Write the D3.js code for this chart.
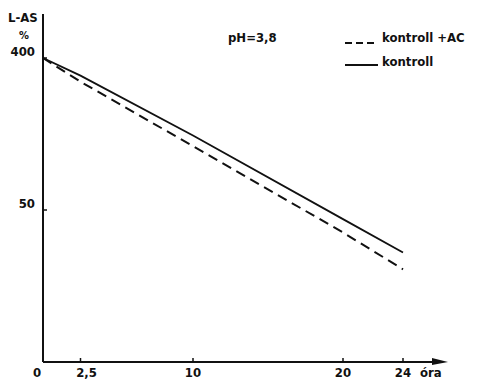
<!DOCTYPE html>
<html>
<head>
<meta charset="utf-8">
<script src="https://cdn.jsdelivr.net/npm/d3@7"></script>
<style>
  body { margin: 0; background: #fff; }
  text { font-family: 'DejaVu Sans Condensed', 'DejaVu Sans', sans-serif; font-weight: bold; fill: #111; }
</style>
</head>
<body>
<div id="chart"></div>
<script>
// Data (hours, % L-AS remaining)
const hours = [0, 2.5, 10, 20, 24];
const kontroll = [100, 94.2, 74.5, 47, 36];
const kontrollAC = [100, 92.2, 71, 42.6, 30.5];
const xTicks = [0, 2.5, 10, 20, 24];
const xTickLabels = ['0', '2,5', '10', '20', '24'];
const yTicks = [100, 50];
const yTickLabels = ['400', '50'];

const width = 477, height = 380;
const svg = d3.select('#chart').append('svg')
  .attr('width', width)
  .attr('height', height);

const x = d3.scaleLinear().domain([0, 24]).range([43, 403]);
const y = d3.scaleLinear().domain([0, 100]).range([362, 58]);

const ink = '#111';

// Axes
svg.append('line')
  .attr('x1', x(0)).attr('x2', x(0))
  .attr('y1', 14).attr('y2', y(0))
  .attr('stroke', ink).attr('stroke-width', 2);

svg.append('line')
  .attr('x1', x(0)).attr('x2', 440)
  .attr('y1', y(0)).attr('y2', y(0))
  .attr('stroke', ink).attr('stroke-width', 2);

// arrow head
svg.append('path')
  .attr('d', `M432,${y(0) - 4} L448,${y(0)} L432,${y(0) + 3} Z`)
  .attr('fill', ink);

// x ticks
xTicks.forEach((t, i) => {
  if (t > 0) {
    svg.append('line')
      .attr('x1', x(t)).attr('x2', x(t))
      .attr('y1', y(0) - 4).attr('y2', y(0))
      .attr('stroke', ink).attr('stroke-width', 1.5);
  }
  svg.append('text')
    .attr('x', t === 0 ? x(t) - 6 : x(t) + (t === 2.5 ? 6 : 0))
    .attr('y', 377)
    .attr('text-anchor', 'middle')
    .style('font-size', '13px')
    .text(xTickLabels[i]);
});

svg.append('text')
  .attr('x', 420).attr('y', 377)
  .style('font-size', '13px')
  .text('óra');

// y ticks
yTicks.forEach((t, i) => {
  svg.append('line')
    .attr('x1', x(0)).attr('x2', x(0) + 4)
    .attr('y1', y(t)).attr('y2', y(t))
    .attr('stroke', ink).attr('stroke-width', 1.5);
  svg.append('text')
    .attr('x', 35).attr('y', y(t) - 2)
    .attr('text-anchor', 'end')
    .style('font-size', '13px')
    .text(yTickLabels[i]);
});

// y label
svg.append('text')
  .attr('x', 8).attr('y', 22)
  .style('font-size', '13px')
  .text('L-AS');
svg.append('text')
  .attr('x', 19).attr('y', 39)
  .style('font-size', '11px')
  .text('%');

// Lines
const line = d3.line()
  .x((d, i) => x(hours[i]))
  .y(d => y(d));

svg.append('path')
  .datum(kontrollAC)
  .attr('d', line)
  .attr('fill', 'none')
  .attr('stroke', ink)
  .attr('stroke-width', 2)
  .attr('stroke-dasharray', '10,6');

svg.append('path')
  .datum(kontroll)
  .attr('d', line)
  .attr('fill', 'none')
  .attr('stroke', ink)
  .attr('stroke-width', 1.8);

// Title and legend
svg.append('text')
  .attr('x', 228).attr('y', 42)
  .style('font-size', '13px')
  .text('pH=3,8');

svg.append('line')
  .attr('x1', 345).attr('x2', 376)
  .attr('y1', 43).attr('y2', 43)
  .attr('stroke', ink).attr('stroke-width', 2)
  .attr('stroke-dasharray', '7,4');
svg.append('text')
  .attr('x', 382).attr('y', 42)
  .style('font-size', '13px')
  .text('kontroll +AC');

svg.append('line')
  .attr('x1', 345).attr('x2', 378)
  .attr('y1', 65).attr('y2', 65)
  .attr('stroke', ink).attr('stroke-width', 2);
svg.append('text')
  .attr('x', 382).attr('y', 66)
  .style('font-size', '13px')
  .text('kontroll');
</script>
</body>
</html>
